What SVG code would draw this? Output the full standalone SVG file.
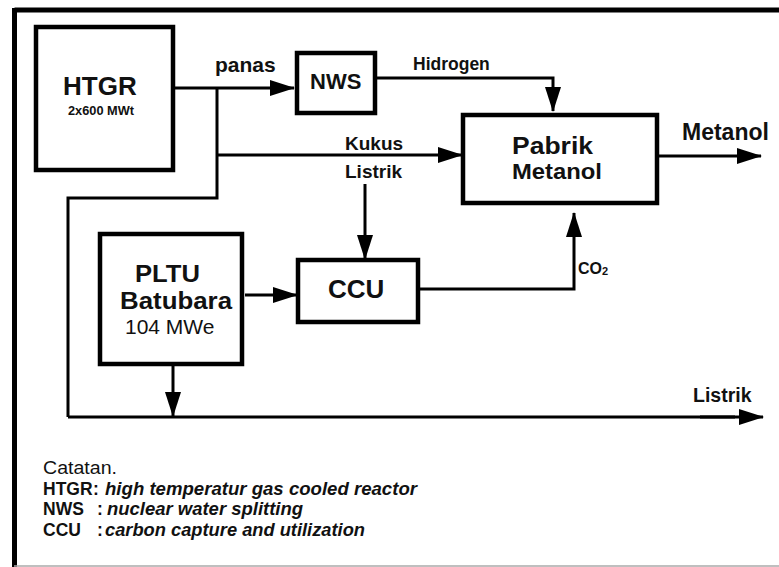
<svg xmlns="http://www.w3.org/2000/svg" width="779" height="567" viewBox="0 0 779 567">
<defs>
<marker id="ah" markerWidth="25" markerHeight="16" refX="24" refY="8" orient="auto" markerUnits="userSpaceOnUse" viewBox="0 0 25 16">
<path d="M0,0 L25,8 L0,16 z" fill="#000"/>
</marker>
<style>
.box{fill:#fff;stroke:#000;stroke-width:4.5}
.ln{fill:none;stroke:#000;stroke-width:3}
.arr{fill:none;stroke:#000;stroke-width:3;marker-end:url(#ah)}
text{font-family:"Liberation Sans",Arial,sans-serif;fill:#111}
.b{font-weight:bold}
.bi{font-weight:bold;font-style:italic}
.n{font-size:17.5px}
</style>
</defs>
<rect x="0" y="0" width="779" height="567" fill="#fff"/>
<g id="frame">
<line x1="14.5" y1="10" x2="779" y2="10" stroke="#000" stroke-width="5"/>
<line x1="14.5" y1="8" x2="14.5" y2="567" stroke="#000" stroke-width="5"/>
<line x1="14" y1="566" x2="779" y2="566" stroke="#aaa" stroke-width="1.5"/>
</g>
<g id="connectors">
<line class="arr" x1="175" y1="88" x2="294" y2="88"/>
<polyline class="ln" points="217,88 217,198 68,198 68,417"/>
<line class="ln" x1="68" y1="417" x2="735" y2="417"/>
<line class="arr" x1="700" y1="417" x2="763" y2="417"/>
<line class="arr" x1="217" y1="155" x2="462" y2="155"/>
<polyline class="arr" points="377,78 553,78 553,111"/>
<line class="arr" x1="659" y1="156" x2="761" y2="156"/>
<line class="arr" x1="365" y1="184" x2="365" y2="259"/>
<line class="arr" x1="245" y1="295" x2="297" y2="295"/>
<polyline class="arr" points="419,289 574,289 574,213"/>
<line class="arr" x1="173" y1="366" x2="173" y2="416"/>
</g>
<g id="htgr">
<rect class="box" x="36" y="27" width="137" height="143"/>
<text class="b" x="63" y="95" font-size="26">HTGR</text>
<text class="b" x="68" y="115" font-size="12" fill="#555" textLength="66" lengthAdjust="spacingAndGlyphs">2x600 MWt</text>
</g>
<g id="nws">
<rect class="box" x="297" y="53" width="78" height="60"/>
<text class="b" x="310" y="89" font-size="22">NWS</text>
</g>
<g id="pabrik">
<rect class="box" x="463" y="115" width="194" height="88"/>
<text class="b" x="512" y="154" font-size="24" textLength="81" lengthAdjust="spacingAndGlyphs">Pabrik</text>
<text class="b" x="512" y="179" font-size="22" textLength="90" lengthAdjust="spacingAndGlyphs">Metanol</text>
</g>
<g id="ccu">
<rect class="box" x="298" y="260" width="120" height="62"/>
<text class="b" x="328" y="298" font-size="26">CCU</text>
</g>
<g id="pltu">
<rect class="box" x="100" y="234" width="142" height="130"/>
<text class="b" x="135" y="282" font-size="23.5" textLength="65" lengthAdjust="spacingAndGlyphs">PLTU</text>
<text class="b" x="120" y="309" font-size="24" textLength="112" lengthAdjust="spacingAndGlyphs">Batubara</text>
<text x="125" y="334" font-size="21">104 MWe</text>
</g>
<g id="labels">
<text class="b" x="215" y="72" font-size="21">panas</text>
<text class="b" x="413" y="70" font-size="17.5">Hidrogen</text>
<text class="b" x="345" y="150" font-size="19">Kukus</text>
<text class="b" x="345" y="178" font-size="19">Listrik</text>
<text class="b" x="682" y="140" font-size="23">Metanol</text>
<text class="b" x="578" y="274" font-size="16">CO<tspan font-size="11" dy="1">2</tspan></text>
<text class="b" x="693" y="402" font-size="19.5">Listrik</text>
</g>
<g id="note">
<text class="n" x="43" y="474" textLength="74" lengthAdjust="spacingAndGlyphs">Catatan.</text>
<text class="b n" x="43" y="495">HTGR</text>
<text class="b n" x="93" y="495">:</text>
<text class="bi n" x="105" y="495" textLength="312" lengthAdjust="spacingAndGlyphs">high temperatur gas cooled reactor</text>
<text class="b n" x="43" y="515">NWS</text>
<text class="b n" x="97" y="515">:</text>
<text class="bi n" x="107" y="515" textLength="196" lengthAdjust="spacingAndGlyphs">nuclear water splitting</text>
<text class="b n" x="43" y="536">CCU</text>
<text class="b n" x="97" y="536">:</text>
<text class="bi n" x="105" y="536" textLength="260" lengthAdjust="spacingAndGlyphs">carbon capture and utilization</text>
</g>
</svg>
